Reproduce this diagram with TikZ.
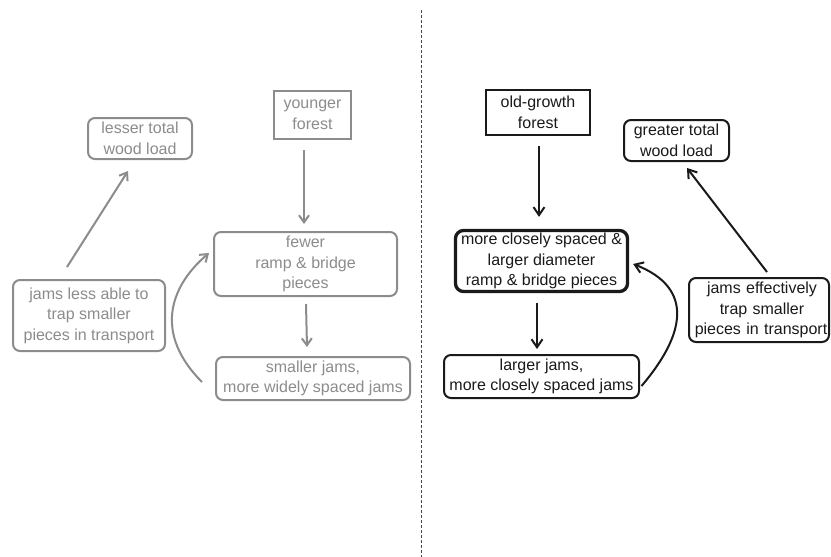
\documentclass[tikz,border=0pt]{standalone}
\usepackage{fontspec}
\setmainfont{Liberation Sans}
\usetikzlibrary{arrows.meta}
\definecolor{lg}{HTML}{8C8C8C}
\definecolor{dk}{HTML}{1A1A1A}
\tikzset{
  x=1pt, y=-1pt,
  txt/.style={font=\fontsize{16}{20.5}\selectfont, align=center, inner sep=0pt},
  gbox/.style={txt, draw=lg, text=lg, line width=2pt, rounded corners=7pt},
  gsq/.style={txt, draw=lg, text=lg, line width=2.2pt},
  bbox/.style={txt, draw=dk, text=dk, line width=2pt, rounded corners=7pt},
  bthick/.style={txt, draw=dk, text=dk, line width=3.3pt, rounded corners=8pt},
  bsq/.style={txt, draw=dk, text=dk, line width=2pt},
  garr/.style={draw=lg, line width=2pt, -{Straight Barb[length=7pt,width=10pt]}},
  barr/.style={draw=dk, line width=2pt, -{Straight Barb[length=8pt,width=11pt]}},
}
\begin{document}
\begin{tikzpicture}
\useasboundingbox (0,0) rectangle (831,557);
\fill[white] (0,0) rectangle (831,557);
% divider
\draw[dk!80, line width=0.8pt, dash pattern=on 3pt off 2pt] (421.5,10) -- (421.5,557);

% left (gray)
\node[gbox, minimum width=104pt, minimum height=41pt] (lesser) at (140,138.5) {lesser total\\wood load};
\node[gsq, minimum width=77pt, minimum height=48pt] (younger) at (312.5,115) {younger\\forest};
\node[gbox, minimum width=183pt, minimum height=64pt] (fewer) at (305.5,264) {fewer\\ramp \& bridge\\pieces};
\node[gbox, minimum width=152pt, minimum height=71pt] (jless) at (89,315.5) {jams less able to\\trap smaller\\pieces in transport};
\node[gbox, minimum width=194pt, minimum height=43pt] (smaller) at (313,378.5) {smaller jams,\\more widely spaced jams};

\draw[garr] ([xshift=-8.5pt,yshift=-10pt]younger.south) -- ([xshift=-1.5pt,yshift=7pt]fewer.north);
\draw[garr] ([xshift=0.5pt,yshift=-7pt]fewer.south) -- ([xshift=-6pt,yshift=9pt]smaller.north);
\draw[garr] ([xshift=-22pt,yshift=12pt]jless.north) -- ([xshift=-12pt,yshift=-11pt]lesser.south);
\draw[garr] ([xshift=-13pt,yshift=-3.5pt]smaller.west) .. controls (155,335) and (168,288) .. ([xshift=-4pt,yshift=11pt]fewer.west);

% right (black)
\node[bsq, minimum width=104pt, minimum height=45pt] (old) at (538,112.5) {old-growth\\forest};
\node[bbox, minimum width=105pt, minimum height=41pt] (greater) at (676.5,140.5) {greater total\\wood load};
\node[bthick, minimum width=172pt, minimum height=61pt] (close) at (541.5,261) {more closely spaced \&\\larger diameter\\ramp \& bridge pieces};
\node[bbox, minimum width=195pt, minimum height=43pt] (larger) at (541.5,376.5) {larger jams,\\more closely spaced jams};
\node[bbox, minimum width=140pt, minimum height=64pt, text width=140pt] (jeff) at (759,310) {\hspace*{6pt}jams effectively\\\hspace*{6pt}trap smaller\\\hspace*{4pt}pieces in transport};

\draw[barr] ([xshift=1pt,yshift=-10pt]old.south) -- ([xshift=-2.5pt,yshift=12pt]close.north);
\draw[barr] ([xshift=-4.5pt,yshift=-10pt]close.south) -- ([xshift=-4.5pt,yshift=5pt]larger.north);
\draw[barr] ([xshift=8pt,yshift=5pt]jeff.north) -- ([xshift=10.5pt,yshift=-6pt]greater.south);
\draw[barr] ([xshift=1.5pt,yshift=-9.5pt]larger.east) .. controls (685,335) and (695,288) .. ([xshift=4pt,yshift=-3pt]close.east);
\end{tikzpicture}
\end{document}
